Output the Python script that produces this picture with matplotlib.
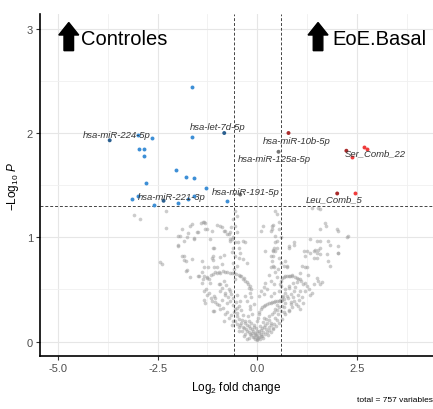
import matplotlib
matplotlib.use("Agg")
import matplotlib.pyplot as plt
from matplotlib.patches import FancyArrow
from matplotlib.ticker import MultipleLocator

plt.rcParams['font.family'] = ['Liberation Sans', 'DejaVu Sans']
plt.rcParams['mathtext.fontset'] = 'custom'
plt.rcParams['mathtext.rm'] = 'Liberation Sans'
plt.rcParams['mathtext.it'] = 'Liberation Sans:italic'
plt.rcParams['axes.unicode_minus'] = False

# ---------------- data ----------------
fc_cutoff = 0.585
p_cutoff_log = 1.30103
total_vars = 757

blue_fc = [-3.0, -2.63, -2.97, -2.85, -2.83, -1.65, -1.65, -2.03, -1.8, -1.58, -1.28,
           -2.8, -3.13, -2.6, -2.0, -1.75, -1.6, -0.75, -2.98]
blue_lp = [1.98, 1.95, 1.85, 1.85, 1.78, 2.44, 1.96, 1.65, 1.58, 1.57, 1.47,
           1.52, 1.37, 1.31, 1.33, 1.37, 1.40, 1.35, 1.40]

red_fc = [2.38, 2.68, 2.75, 2.45]
red_lp = [1.77, 1.87, 1.85, 1.42]

labels = ['hsa-miR-224-5p', 'hsa-let-7d-5p', 'hsa-miR-10b-5p', 'hsa-miR-125a-5p',
          'Ser_Comb_22', 'hsa-miR-221-3p', 'hsa-miR-191-5p', 'Leu_Comb_5']
label_fc = [-3.7, -0.83, 0.78, 0.53, 2.23, -2.35, -0.43, 2.0]
label_lp = [1.93, 2.0, 2.0, 1.82, 1.83, 1.35, 1.41, 1.42]
label_col = ['#2a5f8f', '#2a5f8f', '#a82a2a', '#777777', '#a82a2a', '#2a5f8f', '#777777', '#a82a2a']
label_text_x = [-4.38, -1.70, 0.13, -0.50, 2.18, -3.00, -1.13, 1.20]
label_text_y = [1.99, 2.06, 1.93, 1.76, 1.81, 1.39, 1.44, 1.37]

gray_pts = [
    (-3.08, 1.21), (-2.95, 1.18), (-2.28, 1.25), (-2.3, 1.09), (-2.43, 0.76), (-2.38, 0.74),
    (-1.98, 1.01), (-2.0, 0.92), (-1.88, 1.08), (-1.85, 0.96), (-1.88, 0.82), (-1.85, 0.78),
    (-1.65, 1.13), (-1.73, 1.04), (-1.6, 0.99), (-1.5, 1.05), (-1.4, 1.14), (-1.33, 1.15),
    (-1.25, 1.08), (-1.13, 1.06), (-1.1, 0.9), (-1.63, 0.79), (-1.78, 0.68), (-1.68, 0.62),
    (-1.5, 0.63), (-1.38, 0.67), (-1.35, 0.6), (-1.25, 0.61), (-1.23, 0.71), (-1.0, 0.71),
    (-1.1, 0.78), (-1.38, 0.77), (-1.1, 0.82), (-0.93, 0.81), (-0.88, 0.74), (-1.3, 1.14),
    (-1.0, 1.12), (-0.88, 1.1), (-1.68, 1.11), (-1.51, 1.05), (-1.3, 1.08), (-1.93, 1.01),
    (-1.76, 1.0), (-1.59, 0.98), (-2.0, 0.93), (-1.18, 0.98), (-0.84, 1.06), (-0.72, 1.03),
    (-0.68, 0.98), (-1.09, 0.9), (-0.43, 0.85), (-0.47, 0.8), (-1.84, 0.82), (-1.8, 0.77),
    (-1.13, 0.8), (-0.84, 0.83), (-1.76, 0.69), (-1.34, 0.71), (-1.09, 0.71), (-1.47, 0.63),
    (-1.34, 0.63), (-1.22, 0.6), (-1.38, 0.56), (-1.18, 0.56), (-0.93, 0.55), (-0.84, 0.58),
    (-1.34, 0.48), (-1.26, 0.45), (-1.09, 0.44), (-0.93, 0.48), (-0.8, 0.45), (-0.68, 0.48),
    (-0.51, 0.45), (-1.34, 0.4), (-1.3, 0.37), (-1.13, 0.39), (-1.01, 0.36), (-0.88, 0.4),
    (-0.76, 0.37), (-1.09, 0.29), (-0.93, 0.31), (-0.8, 0.26), (-0.59, 0.28), (-0.51, 0.32),
    (-0.43, 0.39), (-0.3, 0.44), (-0.26, 0.39), (-0.18, 0.34), (-1.1, 0.29), (-1.05, 0.42),
    (-1.01, 0.66), (-0.93, 0.66), (-0.8, 0.67), (-0.69, 0.66), (-0.59, 0.66), (-0.47, 0.64),
    (-0.4, 0.63), (-0.34, 0.61), (-0.26, 0.57), (-0.19, 0.53), (-0.16, 0.5), (-1.15, 0.64),
    (-0.55, 0.2), (-0.43, 0.16), (-0.34, 0.13), (-0.26, 0.1), (-0.18, 0.07), (-0.09, 0.04),
    (-0.51, 0.24), (-0.38, 0.21), (-0.3, 0.18), (-0.22, 0.15), (-0.13, 0.12), (-0.05, 0.08),
    (-0.63, 0.16), (-0.72, 0.23), (-0.84, 0.2), (-0.47, 0.1), (-0.34, 0.05), (-0.26, 0.02),
    (-0.93, 1.11), (-0.68, 1.05), (-0.55, 1.11), (-0.68, 0.96), (-0.35, 0.96), (0.38, 0.88),
    (0.43, 0.95), (0.4, 0.72), (0.45, 0.67), (-1.35, 1.15), (-0.8, 1.06), (-0.75, 1.03),
    (-0.63, 0.98), (-0.6, 1.0), (-0.55, 0.95), (-0.48, 0.95), (-0.3, 0.95), (0.13, 1.11),
    (0.08, 1.06), (0.38, 1.12), (0.33, 1.06), (0.2, 0.87), (0.4, 0.87), (0.38, 0.82),
    (-0.63, 0.86), (-0.35, 0.79), (-0.25, 0.75), (-0.55, 1.25), (-0.5, 1.2), (0.5, 1.22),
    (0.55, 1.15), (0.45, 1.25), (-0.6, 1.18),
    (0.37, 1.11), (0.37, 1.08), (0.45, 1.01), (0.49, 0.96), (0.41, 0.9), (0.45, 0.87),
    (0.78, 0.9), (0.91, 0.93), (1.33, 0.98), (1.49, 0.96), (1.53, 0.88), (1.58, 0.9),
    (1.58, 1.08), (1.78, 0.96), (1.83, 0.93), (2.01, 1.06), (2.03, 0.92), (2.01, 0.85),
    (2.24, 1.0), (1.24, 0.87), (1.2, 0.82), (1.49, 0.8), (1.74, 0.84), (1.83, 0.72),
    (0.33, 0.82), (0.37, 0.77), (0.33, 0.71), (0.41, 0.71), (0.66, 0.72), (0.74, 0.71),
    (1.12, 0.72), (1.08, 0.66), (1.24, 0.71), (1.28, 0.64), (1.49, 0.61), (1.53, 0.58),
    (1.41, 0.55), (1.58, 0.55), (1.2, 0.56), (1.08, 0.6), (0.99, 0.61), (0.87, 0.64),
    (0.7, 0.63), (0.78, 0.63), (0.87, 0.63), (0.62, 0.61), (1.08, 0.48), (1.03, 0.45),
    (1.33, 0.45), (1.37, 0.47), (1.08, 0.31), (0.91, 0.39), (0.91, 0.48), (0.78, 0.53),
    (0.7, 0.5), (0.74, 0.44), (0.83, 0.36), (0.78, 0.29), (0.66, 0.28), (0.62, 0.34),
    (0.62, 0.43), (0.58, 0.53), (0.53, 0.48), (0.41, 0.55), (0.33, 0.58), (0.28, 0.64),
    (0.2, 0.56), (0.16, 0.52), (0.08, 0.48), (0.03, 0.44), (0.16, 0.46), (0.24, 0.5),
    (0.33, 0.44), (0.41, 0.47), (1.15, 0.37), (0.83, 0.38), (1.63, 0.57), (1.3, 0.5),
    (0.0, 0.2), (0.03, 0.26), (0.09, 0.31), (0.16, 0.34), (0.24, 0.36), (0.33, 0.37),
    (0.41, 0.38), (0.49, 0.39), (0.58, 0.39), (0.16, 0.23), (0.28, 0.24), (0.41, 0.28),
    (0.45, 0.23), (0.33, 0.18), (0.2, 0.16), (0.12, 0.13), (0.03, 0.1), (-0.05, 0.07),
    (0.08, 0.05), (0.0, 0.02), (-0.13, 0.08), (-0.09, 0.16), (-0.13, 0.26), (-0.18, 0.31),
    (-0.09, 0.36), (0.05, 0.04), (0.1, 0.07), (0.15, 0.09), (0.22, 0.12), (0.28, 0.14),
    (0.35, 0.16), (0.5, 0.3), (0.55, 0.33), (0.06, 0.15), (-0.03, 0.13), (-0.2, 0.2),
    (1.37, 1.28), (1.53, 1.28), (1.58, 1.27), (1.7, 1.14), (1.73, 1.11), (1.99, 1.08),
    (2.28, 1.01), (0.91, 0.95), (0.78, 0.92), (1.58, 0.96), (2.03, 0.85), (1.16, 0.87),
    (1.33, 0.85), (1.41, 0.87), (1.45, 0.88), (1.49, 0.85), (1.58, 0.84), (1.41, 0.8),
    (1.78, 0.77), (0.7, 0.77), (0.74, 0.72), (1.2, 0.71), (0.9, 0.43), (1.03, 0.34),
    # dense bottom of the V
    (-0.02, 0.01), (0.02, 0.03), (-0.07, 0.02), (0.07, 0.02), (-0.12, 0.04), (0.12, 0.05),
    (-0.04, 0.06), (0.04, 0.08), (-0.16, 0.06), (0.18, 0.07), (-0.22, 0.09), (0.25, 0.09),
    (-0.1, 0.1), (0.1, 0.11), (-0.28, 0.12), (0.3, 0.11), (-0.18, 0.13), (0.17, 0.14),
    (-0.35, 0.14), (0.38, 0.13), (-0.25, 0.16), (0.25, 0.18), (-0.4, 0.18), (0.42, 0.17),
    (-0.31, 0.2), (0.3, 0.21), (-0.45, 0.22), (0.48, 0.21), (-0.36, 0.25), (0.37, 0.26),
    (-0.5, 0.27), (0.52, 0.26), (-0.42, 0.3), (0.43, 0.31), (-0.56, 0.31), (0.6, 0.29),
    (-0.47, 0.34), (0.48, 0.35), (-0.62, 0.35), (0.66, 0.33), (-0.53, 0.38), (0.57, 0.4),
    (-0.68, 0.39), (0.7, 0.37), (-0.6, 0.42), (0.64, 0.44), (-0.74, 0.43), (0.76, 0.42),
    (-0.66, 0.46), (0.68, 0.47), (-0.82, 0.47), (0.85, 0.46), (-0.72, 0.5), (0.8, 0.51),
    (-0.88, 0.51), (0.95, 0.52), (-0.78, 0.54), (0.9, 0.56), (-0.95, 0.55), (1.0, 0.57),
    (-0.08, 0.14), (0.0, 0.1), (-0.15, 0.18), (0.13, 0.19), (0.22, 0.22), (-0.24, 0.24),
    (-0.02, 0.05), (0.15, 0.03), (-0.2, 0.03), (0.27, 0.06), (-0.3, 0.07), (0.33, 0.09),
    (-0.38, 0.1), (0.4, 0.12), (-0.45, 0.14), (0.47, 0.15), (-0.52, 0.17), (0.55, 0.18),
    (-0.6, 0.2), (0.62, 0.22), (-0.66, 0.25), (0.7, 0.26), (-0.75, 0.28), (0.78, 0.3),
    (-0.85, 0.32), (0.88, 0.33), (-0.95, 0.35), (0.97, 0.36), (-1.05, 0.38), (1.05, 0.4),
    (-1.15, 0.42), (1.12, 0.43), (-1.22, 0.47), (1.2, 0.48), (-1.28, 0.5), (1.25, 0.53),
    # arcs
    (-1.25, 0.62), (-1.12, 0.65), (-1.05, 0.665), (-0.97, 0.67), (-0.87, 0.675), (-0.75, 0.67),
    (-0.64, 0.655), (-0.53, 0.645), (-0.44, 0.625), (-0.37, 0.6), (-0.3, 0.58), (-0.23, 0.55),
    (-0.21, 0.51), (-0.18, 0.47), (-0.16, 0.43),
    (0.02, 0.23), (0.05, 0.28), (0.12, 0.33), (0.2, 0.35), (0.28, 0.37), (0.37, 0.38),
    (0.45, 0.39), (0.53, 0.39), (0.62, 0.4), (0.66, 0.41),
    (0.66, 0.62), (0.74, 0.63), (0.82, 0.63), (0.95, 0.62), (1.02, 0.6), (1.1, 0.58),
    (1.15, 0.55), (0.6, 0.58), (0.57, 0.55),
    # bands along the fold-change cut-offs
    (-0.62, 0.75), (-0.58, 0.7), (-0.55, 0.82), (-0.6, 0.9), (-0.52, 1.05), (-0.57, 0.6),
    (-0.5, 0.72), (-0.45, 0.9), (-0.65, 1.1),
    (0.52, 0.7), (0.55, 0.8), (0.5, 0.9), (0.58, 1.0), (0.54, 1.08), (0.48, 0.62), (0.6, 0.75),
]
gray_fc = [p[0] for p in gray_pts]
gray_lp = [p[1] for p in gray_pts]

x_ticks = [-5.0, -2.5, 0.0, 2.5]
y_ticks = [0, 1, 2, 3]

# ---------------- figure ----------------
fig = plt.figure(figsize=(4.33, 4.10), dpi=100)
ax = fig.add_axes([0.092, 0.129, 0.908, 0.834])
ax.set_xlim(-5.45, 4.4)
ax.set_ylim(-0.14, 3.14)

ax.xaxis.set_minor_locator(MultipleLocator(1.25))
ax.yaxis.set_minor_locator(MultipleLocator(0.5))
ax.set_xticks(x_ticks)
ax.set_xticklabels(['%.1f' % v for v in x_ticks])
ax.set_yticks(y_ticks)
ax.grid(True, which='major', color='#e6e6e6', linewidth=0.8)
ax.grid(True, which='minor', color='#f0f0f0', linewidth=0.6)
ax.set_axisbelow(True)
ax.tick_params(which='major', length=3, color='#333333', labelsize=8, labelcolor='#4d4d4d', pad=2)
ax.tick_params(which='minor', length=0)
for s in ['top', 'right']:
    ax.spines[s].set_visible(False)
for s in ['left', 'bottom']:
    ax.spines[s].set_linewidth(1.2)
    ax.spines[s].set_color('black')

ax.scatter(gray_fc, gray_lp, s=7, color='#9a9a9a', alpha=0.5, linewidths=0, zorder=2)
ax.scatter(blue_fc, blue_lp, s=8, color='#3d8fd6', linewidths=0, zorder=3)
ax.scatter(red_fc, red_lp, s=8, color='#ef3b3b', linewidths=0, zorder=3)
ax.scatter(label_fc, label_lp, s=8, c=label_col, linewidths=0, zorder=3)

for t, tx, ty in zip(labels, label_text_x, label_text_y):
    ax.text(tx, ty, t, fontsize=6.8, style='italic', color='#333333', va='center', ha='left', zorder=4)

ax.axvline(-fc_cutoff, color='#444444', linestyle=(0, (3, 2)), linewidth=0.7, zorder=2.5)
ax.axvline(fc_cutoff, color='#444444', linestyle=(0, (3, 2)), linewidth=0.7, zorder=2.5)
ax.axhline(p_cutoff_log, color='#444444', linestyle=(0, (3, 2)), linewidth=0.7, zorder=2.5)

# group annotations with arrows
for ax_x, tx, txt in [(-4.725, -4.43, 'Controles'), (1.52, 1.88, 'EoE.Basal')]:
    ax.add_patch(FancyArrow(ax_x, 2.79, 0, 0.27, width=0.24, head_width=0.5, head_length=0.12,
                            length_includes_head=True, color='black', zorder=5))
    ax.text(tx, 2.905, txt, fontsize=14.5, color='black', va='center', ha='left', zorder=5)

ax.set_xlabel('Log$_2$ fold change', fontsize=8.5, labelpad=4)
ax.set_ylabel('\u2212Log$_{10}$ $P$', fontsize=8.5, labelpad=4)

fig.text(0.999, 0.022, 'total = %d variables' % total_vars, fontsize=6, ha='right', va='center')

fig.savefig('out.png', dpi=100)
